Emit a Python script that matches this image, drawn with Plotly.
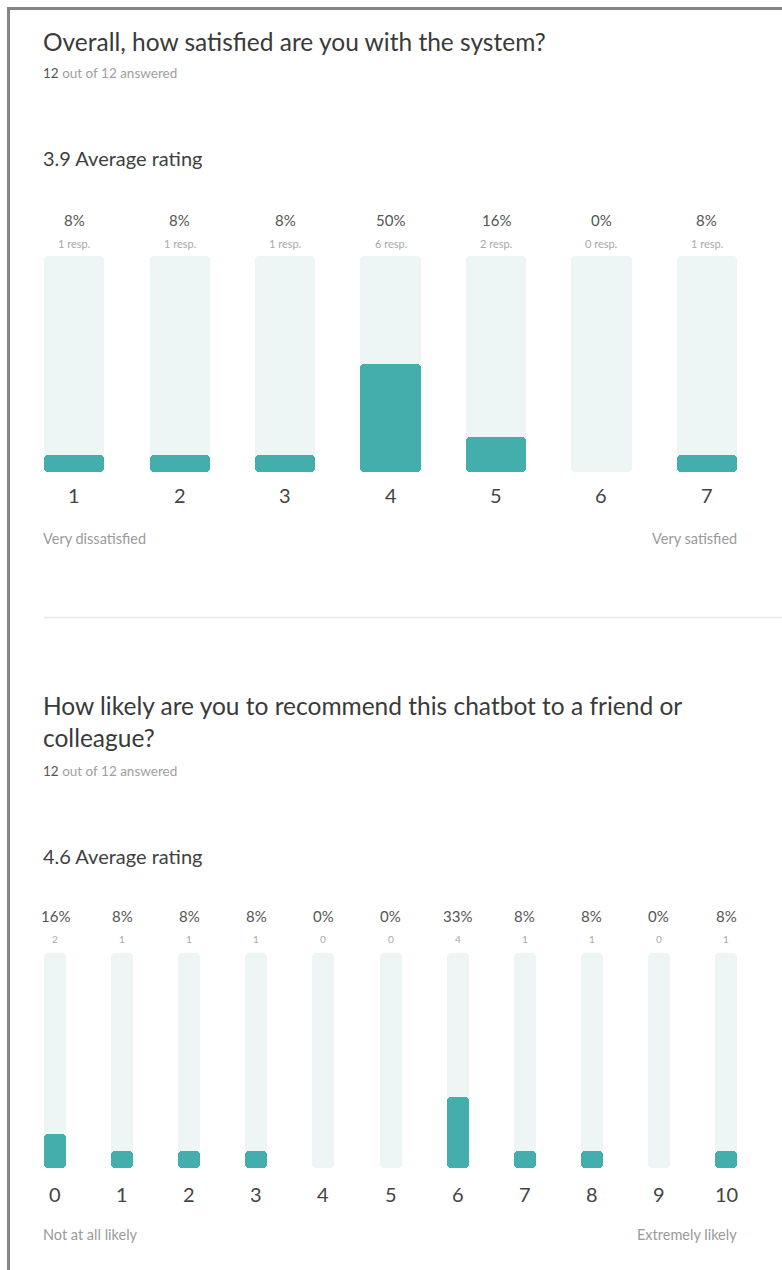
import plotly.graph_objects as go

# ---- Question 1: overall satisfaction (1-7 scale) ----
q1_title = "Overall, how satisfied are you with the system?"
q1_answered = 12
q1_total = 12
q1_average = 3.9
q1_categories = [1, 2, 3, 4, 5, 6, 7]
q1_percent = [8, 8, 8, 50, 16, 0, 8]
q1_responses = [1, 1, 1, 6, 2, 0, 1]
q1_low_label = "Very dissatisfied"
q1_high_label = "Very satisfied"

# ---- Question 2: likelihood to recommend (0-10 scale) ----
q2_title = "How likely are you to recommend this chatbot to a friend or<br>colleague?"
q2_answered = 12
q2_total = 12
q2_average = 4.6
q2_categories = [0, 1, 2, 3, 4, 5, 6, 7, 8, 9, 10]
q2_percent = [16, 8, 8, 8, 0, 0, 33, 8, 8, 0, 8]
q2_responses = [2, 1, 1, 1, 0, 0, 4, 1, 1, 0, 1]
q2_low_label = "Not at all likely"
q2_high_label = "Extremely likely"

W, H = 782, 1270
TEAL = "#43aeac"
TRACK = "#edf6f5"
FONT = "Lato, 'Source Sans Pro', 'Open Sans', sans-serif"


def py(pix):
    """Convert a pixel row (from top) to paper y."""
    return 1 - pix / H


def px(pix):
    return pix / W


fig = go.Figure()


def add_rating_bars(cats, pct, xaxis, yaxis, width):
    # Light track bar for the full 100%, filled bar for the share of answers
    full = [100] * len(cats)
    for vals, color in ((full, TRACK), (pct, TEAL)):
        fig.add_trace(go.Bar(
            x=cats,
            y=vals,
            base=[0] * len(cats),
            width=width,
            marker=dict(color=color, line=dict(width=0), cornerradius=4),
            xaxis=xaxis, yaxis=yaxis,
            hoverinfo="skip",
            showlegend=False,
        ))


add_rating_bars(q1_categories, q1_percent, "x", "y", 0.569)
add_rating_bars(q2_categories, q2_percent, "x2", "y2", 0.328)

annotations = []


def text(x, y, s, size, color, xref="paper", xanchor="center", yanchor="middle"):
    annotations.append(dict(
        x=x, y=y, xref=xref, yref="paper", text=s, showarrow=False,
        xanchor=xanchor, yanchor=yanchor, align="left",
        font=dict(family=FONT, size=size, color=color),
    ))


def question_block(title, title_y, answered, total, ans_y, avg, avg_y,
                   cats, pct, resp, resp_fmt, resp_size, pct_y, resp_y, xref,
                   tick_y, low, high, end_y):
    text(px(41), py(title_y), title, 24.5, "#3a3a3a", xanchor="left")
    text(px(41), py(ans_y),
         f"<span style='color:#555555'>{answered}</span> out of {total} answered",
         13.5, "#a0a0a0", xanchor="left")
    text(px(41), py(avg_y), f"{avg} Average rating", 20, "#3f3f3f", xanchor="left")
    for c, p, r in zip(cats, pct, resp):
        text(c, py(pct_y), f"{p}%", 15, "#555555", xref=xref)
        text(c, py(resp_y), resp_fmt.format(r), resp_size, "#a8a8a8", xref=xref)
        text(c, py(tick_y), str(c), 20, "#444444", xref=xref)
    text(px(41), py(end_y), low, 14.5, "#9a9a9a", xanchor="left")
    text(px(739), py(end_y), high, 14.5, "#9a9a9a", xanchor="right")


question_block(q1_title, 42, q1_answered, q1_total, 73, q1_average, 158,
               q1_categories, q1_percent, q1_responses, "{} resp.", 11, 220, 243,
               "x", 495, q1_low_label, q1_high_label, 538)
question_block(q2_title, 721, q2_answered, q2_total, 771, q2_average, 856,
               q2_categories, q2_percent, q2_responses, "{}", 10, 916, 939,
               "x2", 1194, q2_low_label, q2_high_label, 1234)

# Frame lines and section separator
shapes = [
    dict(type="line", xref="paper", yref="paper", x0=px(8.5), x1=1, y0=py(8.5), y1=py(8.5),
         line=dict(color="#858585", width=3)),
    dict(type="line", xref="paper", yref="paper", x0=px(8.5), x1=px(8.5), y0=py(7), y1=0,
         line=dict(color="#858585", width=3)),
    dict(type="line", xref="paper", yref="paper", x0=px(44), x1=1, y0=py(617.5), y1=py(617.5),
         line=dict(color="#e8e8e8", width=1.5)),
]

axis_common = dict(showgrid=False, zeroline=False, showticklabels=False, ticks="",
                   showline=False, fixedrange=True)

fig.update_layout(
    width=W, height=H,
    margin=dict(l=0, r=0, t=0, b=0),
    paper_bgcolor="white", plot_bgcolor="white",
    barmode="overlay", bargap=0,
    xaxis=dict(domain=[px(44), px(737)], range=[1 - 0.2845, 7 + 0.2845], anchor="y", **axis_common),
    yaxis=dict(domain=[py(472), py(256)], range=[0, 100], anchor="x", **axis_common),
    xaxis2=dict(domain=[px(44), px(737)], range=[-0.164, 10.164], anchor="y2", **axis_common),
    yaxis2=dict(domain=[py(1168), py(953)], range=[0, 100], anchor="x2", **axis_common),
    annotations=annotations,
    shapes=shapes,
    font=dict(family=FONT),
)

fig.write_html("out.html")
